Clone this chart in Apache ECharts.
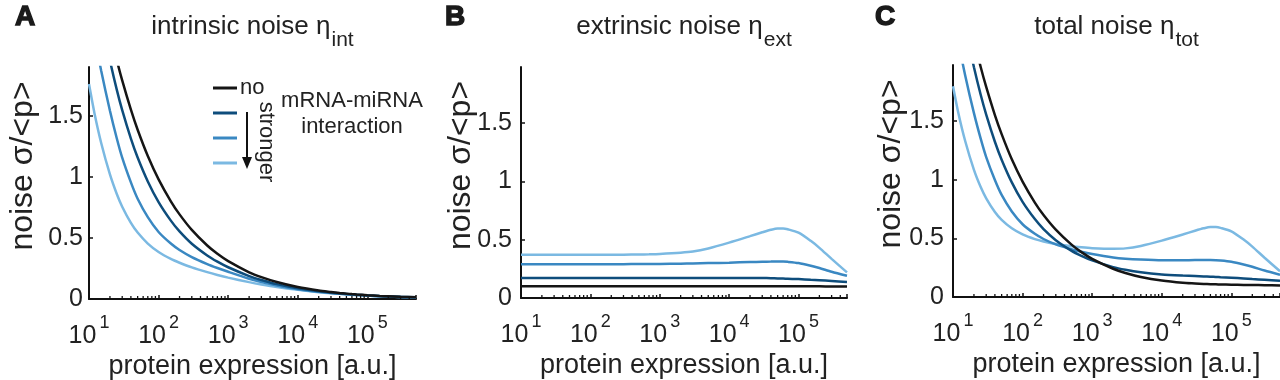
<!DOCTYPE html>
<html>
<head>
<meta charset="utf-8">
<script src="https://cdn.jsdelivr.net/npm/echarts@6/dist/echarts.min.js"></script>
<style>
html,body{margin:0;padding:0;background:#fff;}
#chart{width:1280px;height:380px;}
</style>
</head>
<body>
<div id="chart"></div>
<script>
// ---- data ----
const proteinExpr = [10, 12, 15, 20, 25, 30, 40, 50, 70, 100, 150, 200, 300, 500, 700, 1000, 2000, 3000, 5000, 10000, 20000, 30000, 40000, 50000, 60000, 70000, 100000, 150000, 200000, 300000, 500000];

// A: intrinsic noise
const intNone   = [3.10, 2.83, 2.53, 2.19, 1.96, 1.79, 1.55, 1.386, 1.171, 0.98, 0.80, 0.693, 0.566, 0.438, 0.370, 0.31, 0.219, 0.179, 0.139, 0.098, 0.069, 0.057, 0.049, 0.044, 0.040, 0.037, 0.031, 0.025, 0.022, 0.018, 0.014];
const intWeak   = [2.852, 2.587, 2.292, 1.953, 1.717, 1.547, 1.314, 1.159, 0.963, 0.794, 0.642, 0.554, 0.453, 0.357, 0.306, 0.260, 0.188, 0.156, 0.122, 0.087, 0.063, 0.052, 0.045, 0.041, 0.0375, 0.035, 0.0295, 0.024, 0.021, 0.0173, 0.0136];
const intMedium = [2.418, 2.154, 1.867, 1.542, 1.319, 1.158, 0.955, 0.821, 0.670, 0.549, 0.454, 0.401, 0.343, 0.286, 0.254, 0.223, 0.166, 0.139, 0.111, 0.080, 0.059, 0.049, 0.043, 0.039, 0.0357, 0.0332, 0.0282, 0.023, 0.0204, 0.0169, 0.0133];
const intStrong = [1.76, 1.52, 1.276, 1.02, 0.862, 0.756, 0.623, 0.544, 0.454, 0.385, 0.328, 0.297, 0.259, 0.22, 0.197, 0.175, 0.138, 0.119, 0.098, 0.075, 0.056, 0.047, 0.042, 0.038, 0.035, 0.0325, 0.028, 0.023, 0.020, 0.017, 0.013];

// B: extrinsic noise
const extNone   = [0.1, 0.1, 0.1, 0.1, 0.1, 0.1, 0.1, 0.1, 0.1, 0.1, 0.1, 0.1, 0.1, 0.1, 0.1, 0.1, 0.1, 0.1, 0.1, 0.1, 0.1, 0.1, 0.1, 0.1, 0.1, 0.1, 0.1, 0.1, 0.1, 0.099, 0.098];
const extWeak   = [0.172, 0.172, 0.172, 0.172, 0.172, 0.172, 0.172, 0.172, 0.172, 0.172, 0.172, 0.172, 0.172, 0.172, 0.172, 0.172, 0.172, 0.172, 0.172, 0.172, 0.172, 0.171, 0.17, 0.168, 0.167, 0.165, 0.162, 0.156, 0.152, 0.146, 0.138];
const extMedium = [0.29, 0.29, 0.29, 0.29, 0.29, 0.29, 0.29, 0.29, 0.29, 0.29, 0.29, 0.29, 0.29, 0.291, 0.291, 0.292, 0.294, 0.296, 0.299, 0.303, 0.308, 0.311, 0.312, 0.313, 0.312, 0.31, 0.30, 0.277, 0.257, 0.225, 0.19];
const extStrong = [0.37, 0.37, 0.37, 0.37, 0.37, 0.37, 0.37, 0.37, 0.37, 0.37, 0.37, 0.37, 0.371, 0.373, 0.375, 0.378, 0.388, 0.398, 0.425, 0.475, 0.53, 0.563, 0.585, 0.596, 0.596, 0.589, 0.56, 0.49, 0.43, 0.335, 0.22];

// C: total noise
const totNone   = [3.102, 2.832, 2.532, 2.192, 1.963, 1.793, 1.553, 1.39, 1.175, 0.985, 0.806, 0.70, 0.575, 0.449, 0.383, 0.326, 0.241, 0.205, 0.171, 0.14, 0.121, 0.115, 0.111, 0.109, 0.108, 0.107, 0.105, 0.103, 0.102, 0.101, 0.099];
const totWeak   = [2.857, 2.593, 2.298, 1.961, 1.726, 1.557, 1.325, 1.172, 0.978, 0.812, 0.665, 0.58, 0.485, 0.396, 0.351, 0.312, 0.255, 0.232, 0.211, 0.193, 0.183, 0.179, 0.176, 0.173, 0.171, 0.169, 0.165, 0.158, 0.153, 0.147, 0.139];
const totMedium = [2.435, 2.173, 1.889, 1.569, 1.351, 1.194, 0.998, 0.871, 0.73, 0.621, 0.539, 0.495, 0.449, 0.408, 0.386, 0.367, 0.338, 0.327, 0.319, 0.313, 0.314, 0.315, 0.315, 0.315, 0.314, 0.312, 0.301, 0.278, 0.258, 0.226, 0.19];
const totStrong = [1.799, 1.564, 1.329, 1.085, 0.938, 0.842, 0.725, 0.658, 0.586, 0.534, 0.494, 0.474, 0.452, 0.433, 0.424, 0.417, 0.412, 0.415, 0.436, 0.481, 0.533, 0.565, 0.586, 0.597, 0.597, 0.59, 0.561, 0.49, 0.43, 0.335, 0.22];

const seriesNames = ['none', 'weak', 'moderate', 'strong'];
const panelTitles = ['intrinsic noise η', 'extrinsic noise η', 'total noise η'];
const panelSubs = ['int', 'ext', 'tot'];
const panelLetters = ['A', 'B', 'C'];
const yTickValues = [0, 0.5, 1, 1.5];
const minorMultipliers = [2, 3, 4, 5, 6, 7, 8, 9];
const decades = [10, 100, 1000, 10000, 100000];
const xMin = 10, xMax = 500000;

// ---- styling ----
const FONT = '"Liberation Sans", Arial, Helvetica, sans-serif';
const colors = ['#151515', '#0e4d7c', '#3a88c2', '#7bb9e2'];
const panelData = [
  [intNone, intWeak, intMedium, intStrong],
  [extNone, extWeak, extMedium, extStrong],
  [totNone, totWeak, totMedium, totStrong]
];
const grids = [
  {left: 89, top: 67, width: 327, height: 232, containLabel: false, outerBoundsMode: 'none'},
  {left: 521, top: 67, width: 326, height: 231, containLabel: false, outerBoundsMode: 'none'},
  {left: 953, top: 65, width: 327, height: 232, containLabel: false, outerBoundsMode: 'none'}
];
const yMax = [1.9, 1.98, 1.98];
const yLabelMargin = [6, 9, 9];
const yNameGap = [50, 44, 46];

const minorTicks = [];
decades.forEach(d => minorMultipliers.forEach(m => {
  const v = d * m;
  if (v > xMin && v < xMax) minorTicks.push([v, 0]);
}));

const xAxes = [], yAxes = [], series = [], graphics = [];
for (let i = 0; i < 3; i++) {
  xAxes.push({
    type: 'log', logBase: 10, gridIndex: i, min: xMin, max: xMax,
    axisLine: {show: true, lineStyle: {color: '#111', width: 2}},
    axisTick: {show: true, inside: true, length: 4, lineStyle: {color: '#111', width: 1.5}},
    splitLine: {show: false},
    axisLabel: {
      margin: 22, color: '#222', fontFamily: FONT,
      formatter: function (v) {
        const l = Math.log10(v);
        const e = Math.round(l);
        if (Math.abs(l - e) > 1e-6) return '';
        return '{b|10}{p|' + e + '}';
      },
      rich: {
        b: {fontSize: 25, fontFamily: FONT, color: '#222', lineHeight: 30},
        p: {fontSize: 18, fontFamily: FONT, color: '#222', lineHeight: 30, padding: [0, 0, 26, 3]}
      }
    },
    name: 'protein expression [a.u.]', nameLocation: 'middle', nameGap: 53, nameMoveOverlap: false,
    nameTextStyle: {fontSize: 27, lineHeight: 30, color: '#222', fontFamily: FONT}
  });
  yAxes.push({
    type: 'value', gridIndex: i, min: 0, max: yMax[i], interval: 0.5,
    axisLine: {show: true, lineStyle: {color: '#111', width: 2}},
    axisTick: {show: true, inside: true, length: 4, lineStyle: {color: '#111', width: 1.5}},
    splitLine: {show: false},
    axisLabel: {
      showMaxLabel: false, fontSize: 25, color: '#222', fontFamily: FONT, margin: yLabelMargin[i],
      formatter: v => (yTickValues.indexOf(v) >= 0 ? String(v) : '')
    },
    name: 'noise σ/<p>', nameLocation: 'middle', nameGap: yNameGap[i], nameMoveOverlap: false,
    nameTextStyle: {fontSize: 32, color: '#222', fontFamily: FONT, padding: [0, 0, 0, 34]}
  });
  for (let k = 3; k >= 0; k--) {
    series.push({
      type: 'line', name: seriesNames[k], xAxisIndex: i, yAxisIndex: i,
      data: proteinExpr.map((x, j) => [x, panelData[i][k][j]]),
      showSymbol: false, smooth: 0.25, clip: true,
      lineStyle: {color: colors[k], width: 2.5}, itemStyle: {color: colors[k]},
      emphasis: {disabled: true}, z: 3 + (3 - k)
    });
  }
  series.push({
    type: 'custom', xAxisIndex: i, yAxisIndex: i, silent: true, z: 10,
    data: minorTicks,
    renderItem: function (params, api) {
      const p = api.coord([api.value(0), 0]);
      return {type: 'line', shape: {x1: p[0], y1: p[1], x2: p[0], y2: p[1] - 3},
              style: {stroke: '#111', lineWidth: 1.3}};
    }
  });
  const cx = grids[i].left + grids[i].width / 2;
  graphics.push({
    type: 'text', x: cx, y: 12, silent: true,
    style: {
      text: '{m|' + panelTitles[i] + '}{s|' + panelSubs[i] + '}',
      align: 'center', textAlign: 'center', verticalAlign: 'top', textVerticalAlign: 'top',
      rich: {
        m: {fontSize: 26, fontFamily: FONT, fill: '#222', color: '#222', lineHeight: 30},
        s: {fontSize: 21, fontFamily: FONT, fill: '#222', color: '#222', lineHeight: 30, padding: [27, 0, 0, 1]}
      }
    }
  });
  graphics.push({
    type: 'text', x: [15, 445, 875][i], y: 3, silent: true,
    style: {text: panelLetters[i], font: 'bold 28px ' + FONT, fill: '#1a1a1a',
            stroke: '#1a1a1a', lineWidth: 1.4,
            align: 'left', textAlign: 'left', verticalAlign: 'top', textVerticalAlign: 'top'}
  });
}

// legend annotations (panel A)
graphics.push(
  {type: 'line', silent: true, shape: {x1: 247, y1: 112, x2: 247, y2: 160}, style: {stroke: '#111', lineWidth: 2}},
  {type: 'polygon', silent: true, shape: {points: [[242, 157], [252, 157], [247, 169]]}, style: {fill: '#111'}},
  {type: 'text', silent: true, x: 266, y: 142, rotation: -Math.PI / 2,
   style: {text: 'stronger', font: '22px ' + FONT, fill: '#222', align: 'center', textAlign: 'center', verticalAlign: 'middle', textVerticalAlign: 'middle'}},
  {type: 'text', silent: true, x: 352, y: 101,
   style: {text: 'mRNA-miRNA', font: '22px ' + FONT, fill: '#222', align: 'center', textAlign: 'center', verticalAlign: 'middle', textVerticalAlign: 'middle'}},
  {type: 'text', silent: true, x: 352, y: 127,
   style: {text: 'interaction', font: '22px ' + FONT, fill: '#222', align: 'center', textAlign: 'center', verticalAlign: 'middle', textVerticalAlign: 'middle'}}
);

const chart = echarts.init(document.getElementById('chart'), null, {renderer: 'canvas'});
chart.setOption({
  animation: false,
  backgroundColor: '#fff',
  grid: grids,
  xAxis: xAxes,
  yAxis: yAxes,
  legend: {
    orient: 'vertical', left: 208, top: 72, itemWidth: 24, itemHeight: 3, itemGap: 3,
    icon: 'rect', selectedMode: false,
    data: ['none', 'weak', 'moderate', 'strong'],
    formatter: n => (n === 'none' ? 'no' : '\u00a0'),
    textStyle: {fontSize: 22, lineHeight: 22, color: '#222', fontFamily: FONT, padding: [0, 0, 0, -2]}
  },
  series: series,
  graphic: graphics
});
</script>
</body>
</html>
